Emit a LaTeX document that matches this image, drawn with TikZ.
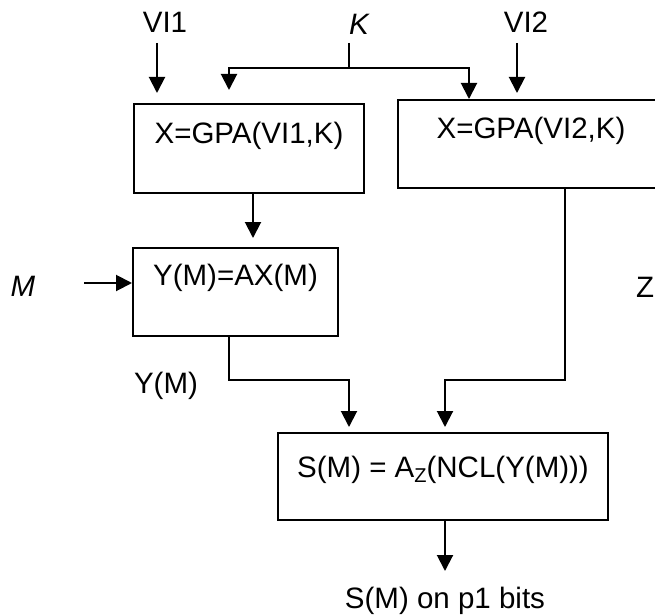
\documentclass[tikz,border=0pt]{standalone}
\usepackage{fontspec}
\setmainfont{Liberation Sans}
\usetikzlibrary{arrows.meta}
\begin{document}
\begin{tikzpicture}[x=1pt,y=-1pt,
  lbl/.style={inner sep=0pt,anchor=base,font=\fontsize{29.5}{34}\selectfont},
  ilbl/.style={lbl,font=\fontsize{29.5}{34}\selectfont\itshape},
  box/.style={draw,line width=2pt,inner sep=0pt,anchor=north west,font=\fontsize{29.5}{34}\selectfont},
  arr/.style={line width=2pt,-{Triangle[width=16pt,length=16pt]}},
  ln/.style={line width=2pt}]
\clip (0,0) rectangle (655,615);
% boxes
\node[box,minimum width=230pt,minimum height=89pt,text height=39pt,text depth=50pt] (b1) at (133,103) {X=GPA(VI1,K)};
\node[box,minimum width=266pt,minimum height=88pt,text height=38pt,text depth=50pt] (b2) at (397,99) {X=GPA(VI2,K)};
\node[box,minimum width=205pt,minimum height=88pt,text height=37pt,text depth=51pt] (b3) at (132,247) {Y(M)=AX(M)};
\node[box,minimum width=330pt,minimum height=87pt,text height=44pt,text depth=43pt] (b4) at (277,432) {S(M) = A\raisebox{-5pt}{\fontsize{20}{21}\selectfont Z}(NCL(Y(M)))};
% labels
\node[lbl] (vi1) at (165,33) {VI1};
\node[ilbl] (k) at (359,35) {K};
\node[lbl] (vi2) at (526,33) {VI2};
\node[ilbl] (m) at (23,296) {M};
\node[lbl] (ym) at (166,393) {Y(M)};
\node[lbl] (z) at (645,297) {Z};
\node[lbl] (out) at (445,608) {S(M) on p1 bits};
% free ends
\coordinate (vi1s) at (157,43);
\coordinate (vi1e) at (157,93);
\coordinate (ks) at (349,43);
\coordinate (kj) at (349,68);
\coordinate (kl) at (229,90);
\coordinate (kr) at (469,99);
\coordinate (vi2s) at (517,43);
\coordinate (vi2e) at (517,93);
\coordinate (ms) at (84,283);
\coordinate (b13e) at (253,238);
\coordinate (ys) at (229,335);
\coordinate (yl) at (349,427);
\coordinate (zs) at (565,187);
\coordinate (zl) at (445,427);
\coordinate (outs) at (445,521);
\coordinate (oute) at (445,571);
% connectors
\draw[arr] (vi1s) -- (vi1e);
\draw[ln] (ks) -- (kj);
\draw[arr] (kj) -| (kl);
\draw[arr] (kj) -| (kr);
\draw[arr] (vi2s) -- (vi2e);
\draw[arr] (b1.south -| b13e) -- (b13e);
\draw[arr] (ms) -- (ms -| b3.west);
\draw[arr] (ys) -- (229,380) -| (yl);
\draw[arr] (zs) -- (565,380) -| (zl);
\draw[arr] (outs) -- (oute);
\end{tikzpicture}
\end{document}
